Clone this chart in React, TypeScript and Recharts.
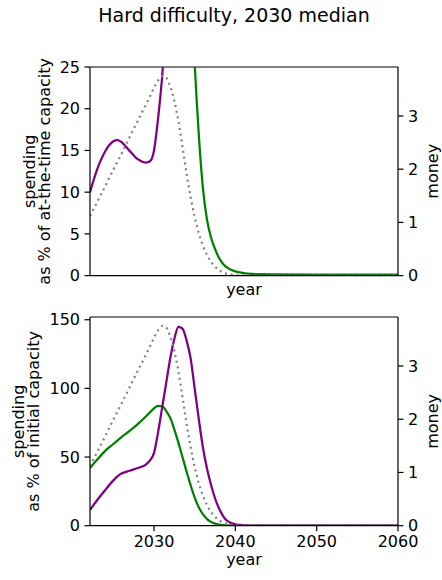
import React from "react";
import { Label, Line, LineChart, ReferenceLine, XAxis, YAxis } from "recharts";

const years = [2022.13, 2023, 2024, 2025, 2025.5, 2026, 2027, 2028, 2029, 2029.5, 2030, 2030.5, 2031, 2031.5, 2032, 2032.5, 2033, 2033.5, 2034, 2034.5, 2035, 2035.5, 2036, 2036.5, 2037, 2037.5, 2038, 2038.5, 2039, 2040, 2041, 2042, 2043, 2045, 2050, 2055, 2060];

// money (right axis), same curve on both panels
const money = [1.12, 1.38, 1.68, 1.99, 2.14, 2.29, 2.6, 2.91, 3.21, 3.37, 3.53, 3.67, 3.75, 3.72, 3.55, 3.28, 2.9, 2.42, 1.92, 1.48, 1.1, 0.8, 0.57, 0.39, 0.26, 0.17, 0.1, 0.06, 0.03, 0.01, 0, 0, 0, 0, 0, 0, 0];

// top panel: spending as % of at-the-time capacity (values above 25 run off the chart)
const purpleAtTime = [10.0, 12.7, 14.9, 16.1, 16.25, 16.0, 14.95, 13.95, 13.55, 13.7, 15.0, 18.8, 23.8, 30.5, 38, 46, 55, 64, 72, 80, 88, 95, 102, 108, 114, 120, 125, 130, 135, 145, 155, 165, 175, 190, 220, 250, 280];
const greenAtTime = [36.5, 41, 47, 52, 55, 58, 63, 69, 76, 80, 85, 90, 94, 96, 95, 90, 82, 72, 52, 37, 25.5, 17, 10.6, 6.8, 4.6, 3.2, 2.1, 1.4, 0.95, 0.5, 0.3, 0.2, 0.17, 0.15, 0.13, 0.13, 0.13];

// bottom panel: spending as % of initial capacity
const purpleInitial = [11.5, 18.5, 26, 33, 36, 38, 40, 42, 44.5, 47.5, 53, 68, 86, 104, 122, 136, 144.8, 143.5, 135, 122, 100, 78, 57.5, 42, 30, 20, 12.5, 7, 3.5, 1.0, 0.3, 0.1, 0.05, 0, 0, 0, 0];
const greenInitial = [42, 48, 54.5, 59.5, 62, 64.5, 69, 74, 79.5, 82.5, 85.5, 87.2, 87, 83.5, 78.5, 70, 60.5, 50, 39.5, 29.5, 20.5, 13.5, 8.5, 5, 2.8, 1.5, 0.8, 0.4, 0.2, 0.1, 0, 0, 0, 0, 0, 0, 0];

const yearTicks = [2030, 2040, 2050, 2060];
const atTimeTicks = [0, 5, 10, 15, 20, 25];
const initialTicks = [0, 50, 100, 150];
const moneyTicks = [0, 1, 2, 3];

const topData = years.map((year, i) => ({ year, purple: purpleAtTime[i], green: greenAtTime[i], money: money[i] }));
const bottomData = years.map((year, i) => ({ year, purple: purpleInitial[i], green: greenInitial[i], money: money[i] }));

const FONT = "DejaVu Sans, sans-serif";
const INK = "#000";
const axisStroke = { stroke: INK, strokeWidth: 1.2 };
const tickStyle = { fill: INK, fontSize: 16, fontFamily: FONT };

function SideLabel({ lines, cy }: { lines: { text: string; x: number }[]; cy: number }) {
  return (
    <g>
      {lines.map((line) => (
        <text key={line.text} transform={`translate(${line.x},${cy}) rotate(-90)`} textAnchor="middle" dominantBaseline="central" fontSize={16} fontFamily={FONT} fill={INK}>
          {line.text}
        </text>
      ))}
    </g>
  );
}

function YearLabel({ baseline }: { baseline: number }) {
  return (
    <text x={244} y={baseline} textAnchor="middle" fontSize={16} fontFamily={FONT} fill={INK}>
      year
    </text>
  );
}

function Panel({ data, height, marginTop, xAxisHeight, leftDomain, leftTicks, showYearTicks, leftLines, cy, yearBaseline }: {
  data: typeof topData; height: number; marginTop: number; xAxisHeight: number; leftDomain: [number, number]; leftTicks: number[];
  showYearTicks: boolean; leftLines: { text: string; x: number }[]; cy: number; yearBaseline: number;
}) {
  return (
    <LineChart width={442} height={height} data={data} margin={{ top: marginTop, right: 0, bottom: 0, left: 0 }}>
      <XAxis dataKey="year" type="number" domain={[2022.13, 2060]} ticks={yearTicks} allowDataOverflow height={xAxisHeight}
        axisLine={axisStroke} tickLine={axisStroke} tickSize={5.5} tickMargin={4.5} tick={showYearTicks ? tickStyle : false}
        label={<Label content={() => <YearLabel baseline={yearBaseline} />} />} />
      <YAxis yAxisId="left" domain={leftDomain} ticks={leftTicks} allowDataOverflow width={90}
        axisLine={axisStroke} tickLine={axisStroke} tickSize={5.5} tickMargin={4.5} tick={tickStyle}
        label={<Label content={() => <SideLabel lines={leftLines} cy={cy} />} />} />
      <YAxis yAxisId="right" orientation="right" domain={[0, 3.92]} ticks={moneyTicks} allowDataOverflow width={44}
        axisLine={axisStroke} tickLine={axisStroke} tickSize={5.5} tickMargin={4.5} tick={tickStyle}
        label={<Label content={() => <SideLabel lines={[{ text: "money", x: 432 }]} cy={cy} />} />} />
      <ReferenceLine yAxisId="left" y={leftDomain[1]} stroke={INK} strokeWidth={1.2} />
      <Line yAxisId="left" dataKey="green" type="monotone" stroke="#008000" strokeWidth={2.25} dot={false} isAnimationActive={false} />
      <Line yAxisId="left" dataKey="purple" type="monotone" stroke="#800080" strokeWidth={2.25} dot={false} isAnimationActive={false} />
      <Line yAxisId="right" dataKey="money" type="monotone" stroke="#808080" strokeWidth={2.2} strokeDasharray="2 3.8" dot={false} isAnimationActive={false} />
    </LineChart>
  );
}

export default function App() {
  return (
    <div style={{ position: "absolute", left: 0, top: 0, width: 442, height: 580, background: "#fff" }}>
      <svg width={442} height={40} style={{ position: "absolute", left: 0, top: 0 }}>
        <text x={234} y={22} textAnchor="middle" fontSize={19} fontFamily={FONT} fill={INK}>Hard difficulty, 2030 median</text>
      </svg>
      <div style={{ position: "absolute", left: 0, top: 0 }}>
        <Panel data={topData} height={300} marginTop={67} xAxisHeight={24.4} leftDomain={[0, 25]} leftTicks={atTimeTicks} showYearTicks={false}
          leftLines={[{ text: "spending", x: 29.7 }, { text: "as % of at-the-time capacity", x: 44 }]} cy={171.3} yearBaseline={295} />
      </div>
      <div style={{ position: "absolute", left: 0, top: 300 }}>
        <Panel data={bottomData} height={280} marginTop={17} xAxisHeight={54.3} leftDomain={[0, 152]} leftTicks={initialTicks} showYearTicks
          leftLines={[{ text: "spending", x: 18.3 }, { text: "as % of initial capacity", x: 33 }]} cy={121.4} yearBaseline={265} />
      </div>
    </div>
  );
}
